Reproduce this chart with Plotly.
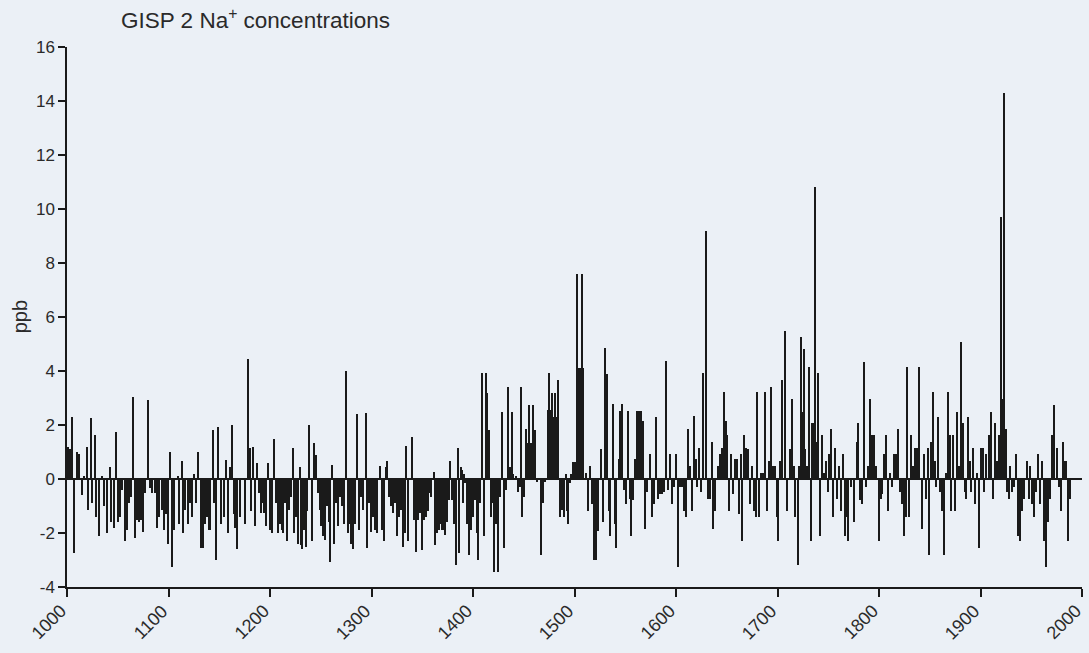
import plotly.graph_objects as go

# GISP2 ice core sodium, annual anomalies (ppb) by year
years = [
    1001, 1003, 1005, 1007, 1010, 1012, 1015, 1017, 1020, 1021, 1024, 1025, 1028, 1029, 1032, 1035, 1037, 1040, 1042, 1043,
    1046, 1048, 1050, 1052, 1054, 1057, 1059, 1061, 1063, 1065, 1067, 1069, 1071, 1073, 1075, 1077, 1080, 1082, 1084, 1087,
    1089, 1091, 1094, 1096, 1098, 1100, 1102, 1104, 1106, 1109, 1110, 1113, 1114, 1116, 1119, 1121, 1123, 1125, 1127, 1129,
    1132, 1134, 1136, 1138, 1140, 1141, 1144, 1145, 1147, 1149, 1152, 1155, 1157, 1159, 1161, 1163, 1165, 1166, 1168, 1171,
    1175, 1178, 1180, 1181, 1183, 1185, 1187, 1189, 1191, 1192, 1194, 1196, 1198, 1200, 1202, 1204, 1206, 1208, 1210, 1212,
    1213, 1215, 1217, 1219, 1221, 1223, 1224, 1226, 1228, 1230, 1231, 1232, 1234, 1236, 1237, 1239, 1241, 1243, 1245, 1247,
    1249, 1250, 1252, 1254, 1256, 1258, 1259, 1261, 1263, 1265, 1267, 1269, 1271, 1273, 1275, 1277, 1279, 1280, 1282, 1284,
    1286, 1288, 1290, 1292, 1295, 1296, 1298, 1300, 1302, 1304, 1306, 1308, 1310, 1312, 1314, 1315, 1317, 1319, 1321, 1323,
    1325, 1327, 1329, 1331, 1333, 1334, 1336, 1340, 1342, 1344, 1346, 1348, 1350, 1352, 1354, 1356, 1358, 1359, 1362, 1363,
    1365, 1367, 1369, 1370, 1371, 1373, 1374, 1376, 1377, 1379, 1381, 1383, 1385, 1386, 1388, 1389, 1390, 1391, 1392, 1394,
    1396, 1398, 1400, 1402, 1404, 1405, 1407, 1409, 1411, 1413, 1414, 1416, 1418, 1420, 1421, 1423, 1425, 1427, 1429, 1431,
    1433, 1435, 1437, 1439, 1440, 1442, 1444, 1446, 1447, 1448, 1450, 1452, 1453, 1455, 1457, 1459, 1461, 1463, 1467, 1469,
    1471, 1474, 1475, 1476, 1478, 1479, 1481, 1482, 1484, 1486, 1488, 1490, 1492, 1493, 1494, 1496, 1497, 1499, 1501, 1503,
    1504, 1505, 1506, 1507, 1508, 1511, 1513, 1515, 1517, 1519, 1521, 1523, 1526, 1528, 1530, 1532, 1534, 1535, 1538, 1540,
    1541, 1544, 1545, 1547, 1549, 1551, 1553, 1555, 1556, 1558, 1560, 1562, 1564, 1566, 1568, 1570, 1572, 1574, 1576, 1578,
    1580, 1582, 1584, 1586, 1588, 1590, 1592, 1594, 1596, 1598, 1600, 1602, 1604, 1606, 1608, 1610, 1612, 1614, 1616, 1618,
    1620, 1621, 1623, 1625, 1627, 1630, 1632, 1634, 1636, 1637, 1639, 1641, 1643, 1645, 1647, 1649, 1650, 1652, 1654, 1656,
    1658, 1660, 1662, 1664, 1665, 1667, 1669, 1671, 1673, 1675, 1677, 1679, 1680, 1682, 1684, 1686, 1688, 1690, 1692, 1694,
    1696, 1698, 1700, 1701, 1703, 1705, 1707, 1709, 1712, 1714, 1716, 1717, 1720, 1721, 1723, 1724, 1726, 1727, 1729, 1731,
    1733, 1734, 1736, 1737, 1739, 1740, 1742, 1744, 1746, 1748, 1750, 1751, 1753, 1755, 1757, 1759, 1761, 1763, 1765, 1767,
    1768, 1770, 1773, 1775, 1778, 1779, 1781, 1783, 1785, 1787, 1789, 1791, 1793, 1795, 1797, 1800, 1802, 1803, 1805, 1807,
    1809, 1811, 1813, 1815, 1817, 1819, 1821, 1823, 1825, 1827, 1828, 1830, 1832, 1834, 1836, 1838, 1840, 1842, 1844, 1846,
    1848, 1849, 1851, 1853, 1855, 1856, 1858, 1860, 1862, 1864, 1866, 1868, 1870, 1871, 1873, 1875, 1877, 1879, 1881, 1883,
    1885, 1886, 1888, 1890, 1891, 1893, 1895, 1897, 1899, 1901, 1903, 1904, 1906, 1908, 1910, 1912, 1914, 1916, 1918, 1920,
    1921, 1923, 1925, 1926, 1928, 1929, 1931, 1933, 1935, 1937, 1939, 1941, 1943, 1946, 1948, 1949, 1951, 1953, 1955, 1957,
    1959, 1961, 1963, 1965, 1967, 1969, 1971, 1973, 1975, 1977, 1979, 1981, 1982, 1984, 1986, 1988,
]

na_ppb = [
    1.2, 1.1, 2.3, -2.75, 1.0, 0.93, -0.6, 0.12, 1.2, -1.15, 2.25, -0.9, 1.63, -1.4, -2.1, 0.1, -1.0, -2.0, 0.45, -1.6,
    -1.8, 1.75, -1.6, -1.4, -0.4, -2.3, -1.9, -0.9, -0.65, 3.05, -2.2, -1.5, -1.6, -1.5, -1.95, -0.5, 2.93, -0.35, -0.5, -0.5,
    -1.8, -1.4, -1.15, -1.9, -1.3, -2.4, 1.0, -3.25, -1.9, 0.1, -1.65, 0.67, -2.0, -1.15, -1.65, -0.9, -1.4, 0.2, -0.9, 1.0,
    -2.55, -2.55, -1.65, -1.4, -1.9, -1.9, 1.8, -0.9, -3.0, 1.94, -1.65, -1.4, 0.7, -2.0, 0.45, 2.0, -1.3, -1.8, -2.6, -1.4,
    -1.65, 4.43, 1.14, -1.2, 1.2, -1.75, 0.58, -0.5, -1.27, -0.9, -1.27, -1.75, 0.58, -1.9, -2.0, 1.5, -0.9, -2.0, -1.65, -1.9,
    -2.0, -0.9, -2.3, -1.15, -0.65, 1.14, -2.0, -1.4, -2.4, 0.43, -2.44, -2.6, -1.9, -2.5, -1.2, 2.0, -2.3, 1.32, 0.9, -0.5,
    -1.15, -1.75, -2.1, -2.25, -1.0, -1.6, -3.06, 0.52, -2.4, -0.9, -1.75, -0.65, -1.0, -1.65, 4.0, -2.0, -1.65, -2.4, -2.6, -1.65,
    2.4, -1.9, -0.65, -1.15, 2.45, -2.55, -0.9, -1.95, -1.4, -1.9, -2.0, 0.5, -1.9, -2.3, 0.45, 0.68, -0.65, -1.0, -1.27, -0.9,
    -2.1, -1.4, -1.15, -2.5, -2.0, 1.23, -2.3, 1.54, -1.5, -2.7, -1.5, -1.27, -2.63, -1.5, -1.4, -1.2, -0.53, -0.65, 0.27, -2.44,
    -2.0, -1.9, -1.65, -1.9, -1.9, -2.07, -1.58, -0.78, 0.68, -0.78, -1.65, -3.2, 1.14, -2.75, 0.46, 0.33, -0.9, 0.18, -0.16, -1.65,
    -2.8, -1.9, -1.4, -0.78, -2.0, -3.0, -0.9, 3.91, -2.1, 3.91, 3.2, 1.8, -1.4, -0.9, -3.43, -1.65, -3.46, -0.65, 2.5, -2.55,
    -0.4, 3.42, 0.46, 2.5, 0.2, 0.11, -0.47, -0.28, 3.42, -1.4, -0.65, 1.84, 1.32, 2.74, 1.32, 2.74, 1.8, -0.1, -2.8, -0.9,
    -0.1, 2.55, 3.91, 2.55, 3.2, 2.3, 3.2, 2.3, 3.67, -1.4, -1.15, -1.4, 0.2, -1.2, -1.65, -0.16, 0.2, 0.64, 0.64, 7.6,
    4.1, 4.1, 4.1, 7.6, 4.1, 0.23, -1.17, 0.48, -0.92, -3.0, -3.0, -1.94, 1.12, -1.6, 4.84, 3.9, -1.17, -2.1, 2.78, -1.68,
    -2.57, 0.74, 2.52, 2.78, -0.41, -0.92, 2.52, -0.73, -2.1, -0.79, 0.74, 2.52, 2.52, 2.52, 2.14, -1.87, -0.47, 0.93, -1.4, -0.92,
    2.3, -0.73, -0.54, -0.54, -0.47, 4.37, -0.41, 0.93, -0.92, -0.28, 0.93, -3.27, -0.28, -0.28, -1.17, -1.4, 1.86, 0.48, -1.17, 2.32,
    0.74, -0.28, 1.15, -0.47, 3.92, 9.2, -0.73, -0.73, 1.38, -1.87, -1.17, 0.48, 0.93, 1.15, 3.22, 2.14, 1.63, -1.17, 0.93, -0.54,
    0.74, 0.74, -1.3, 0.93, -2.3, 1.63, 1.15, 1.12, -0.92, 0.48, -1.17, -1.4, 3.22, -1.4, 0.23, 0.23, 3.22, -1.17, 0.68, 3.4,
    0.48, 0.48, -1.4, -2.3, 0.68, 3.67, 5.5, -1.17, 1.12, 2.97, 0.48, -1.4, -3.2, 0.48, 5.26, 2.5, 4.8, 1.12, 0.48, 4.14,
    -2.3, 2.08, 2.08, 10.8, 1.38, 3.92, -2.1, 1.63, 0.23, 0.68, -0.47, 0.93, 1.86, -1.4, 1.15, -0.73, 0.48, -1.17, 0.93, -2.1,
    -1.4, -2.3, -0.28, -1.6, 1.38, 2.08, -0.79, -0.92, 4.33, -0.28, 0.48, 2.97, 1.63, 1.63, 0.48, -2.3, -0.73, -0.54, 0.93, 1.63,
    -1.17, 0.23, -0.28, 0.93, 0.93, 1.86, -0.47, -0.92, -2.1, -1.4, 4.14, -1.4, 1.63, 0.48, 1.15, 1.15, 4.14, -1.87, 0.93, -0.73,
    1.15, -2.8, 1.38, 3.22, 0.68, -0.28, 2.3, -0.47, -1.17, -2.83, 0.23, 3.22, 1.63, -1.17, 1.63, -1.17, 2.5, 0.48, 5.07, 2.08,
    -0.47, -0.73, 2.3, 0.68, -0.47, 1.15, -0.92, 0.23, -2.57, 1.15, 1.15, -0.47, 0.93, 1.63, 2.5, -0.73, 2.08, 0.68, 1.63, 9.72,
    2.97, 14.3, 1.86, -0.47, -0.73, 0.48, -0.47, -0.28, 0.93, -2.1, -2.3, -1.17, -0.73, 0.68, -0.73, 0.48, -0.92, -1.4, -0.47, 0.93,
    -0.92, 0.68, -2.3, -3.27, -1.6, -0.73, 1.63, 2.74, 1.15, -0.28, -1.17, 1.38, 0.68, 0.68, -2.3, -0.73,
]

x_ticks = [1000, 1100, 1200, 1300, 1400, 1500, 1600, 1700, 1800, 1900, 2000]
y_ticks = [-4, -2, 0, 2, 4, 6, 8, 10, 12, 14, 16]

paper = "#ebf0f6"
ink = "#1a1a1a"
text_col = "#2a2a2a"
font_family = "Liberation Sans, Arial, Helvetica, sans-serif"

fig = go.Figure(
    go.Bar(
        x=years,
        y=na_ppb,
        width=1.2,
        marker=dict(color=ink, line=dict(width=0)),
        hoverinfo="x+y",
    )
)

# Slanted year labels under the bottom axis, each hung from its tick
year_labels = [
    dict(
        text=str(t),
        x=t, xref="x",
        y=0, yref="paper",
        xanchor="right", yanchor="top",
        textangle=-45,
        xshift=6, yshift=-11,
        showarrow=False,
        font=dict(size=18, color=text_col),
    )
    for t in x_ticks
]

fig.update_layout(
    width=1089,
    height=653,
    margin=dict(l=67, r=7, t=47, b=66, autoexpand=False),
    paper_bgcolor=paper,
    plot_bgcolor=paper,
    showlegend=False,
    bargap=0,
    font=dict(family=font_family, size=16, color=text_col),
    xaxis=dict(
        range=[1000, 2000],
        tickmode="array",
        tickvals=x_ticks,
        showticklabels=False,
        ticks="outside",
        ticklen=8,
        tickwidth=1.5,
        tickcolor=ink,
        showline=True,
        linecolor=ink,
        linewidth=1.5,
        showgrid=False,
        zeroline=False,
        automargin=False,
    ),
    yaxis=dict(
        range=[-4, 16],
        tickmode="array",
        tickvals=y_ticks,
        ticktext=[str(t) for t in y_ticks],
        ticks="outside",
        ticklen=7,
        tickwidth=1.5,
        tickcolor=ink,
        showline=True,
        linecolor=ink,
        linewidth=1.5,
        showgrid=False,
        zeroline=True,
        zerolinecolor=ink,
        zerolinewidth=1.6,
        automargin=False,
        ticklabeloverflow="allow",
        tickfont=dict(size=17),
    ),
    annotations=[
        dict(
            text="GISP 2 Na<sup>+</sup> concentrations",
            xref="paper", yref="paper",
            x=0.051, y=1.052,
            xanchor="left", yanchor="middle",
            showarrow=False,
            font=dict(size=22.5, color=text_col),
        ),
        dict(
            text="ppb",
            xref="paper", yref="paper",
            x=-0.046, y=0.5,
            xanchor="center", yanchor="middle",
            textangle=-90,
            showarrow=False,
            font=dict(size=20, color=text_col),
        ),
    ] + year_labels,
)

fig.write_html("out.html")
